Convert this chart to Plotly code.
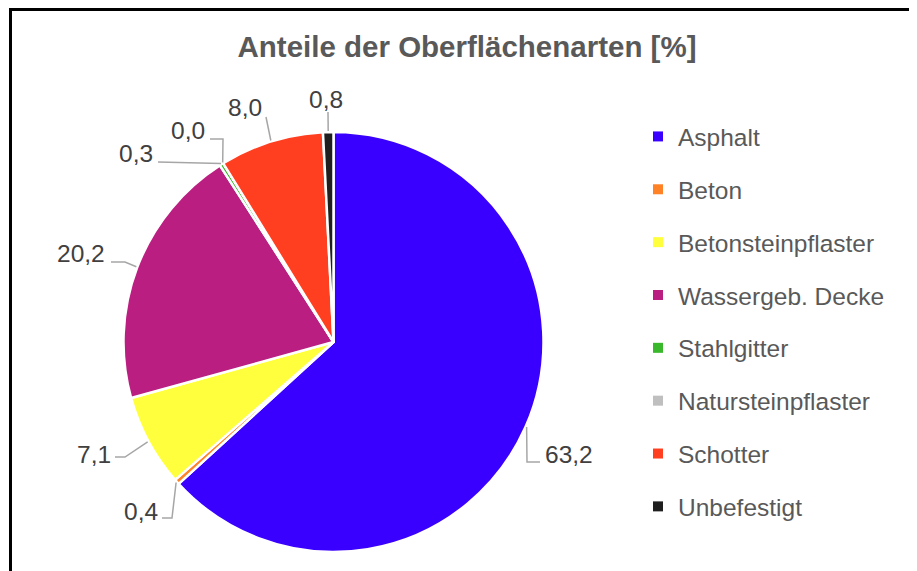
import math
import plotly.graph_objects as go

# data
categories = ["Asphalt", "Beton", "Betonsteinpflaster", "Wassergeb. Decke",
              "Stahlgitter", "Natursteinpflaster", "Schotter", "Unbefestigt"]
shares = [63.2, 0.4, 7.1, 20.2, 0.3, 0.0, 8.0, 0.8]
colors = ["#3A00FF", "#FF8226", "#FFFF3D", "#B91E80",
          "#38B82A", "#BFBFBF", "#FF3F1F", "#1F1F1F"]

W, H = 917, 571
OFF = 8  # page body margin
CX, CY, R = 333.5, 342, 210  # pie centre / radius in screen px

# label placement (px): text x, text y, anchor, knee, stub end
label_layout = [
    (543, 454, "left", (527, 462), (540, 462)),
    (160, 511, "right", (172, 518), (162, 518)),
    (113, 454, "right", (125, 457), (115, 457)),
    (107, 253, "right", (125, 262), (111, 262)),
    (155, 153, "right", (158, 162), None),
    (207, 130, "right", (223, 139), (210, 139)),
    (245, 107, "center", (266, 117), None),
    (325.5, 99, "center", (328, 112), None),
]


def px(x):
    return (x - OFF) / W


def py(y):
    return 1 - (y - OFF) / H


fig = go.Figure()

fig.add_trace(go.Pie(
    labels=categories,
    values=shares,
    sort=False,
    direction="clockwise",
    marker=dict(colors=colors, line=dict(color="white", width=2.5)),
    textinfo="none",
    hoverinfo="label+value",
    showlegend=False,
    domain=dict(x=[px(CX - R), px(CX + R)], y=[py(CY + R), py(CY - R)]),
))

# legend entries (one group each so the spacing can be set)
for name, col in zip(categories, colors):
    fig.add_trace(go.Scatter(
        x=[None], y=[None], mode="markers", name=name, legendgroup=name,
        marker=dict(symbol="square", size=10, color=col),
    ))

# data labels with leader lines, anchored on the slice mid angles
total = sum(shares)
cum = 0
shapes = []
annotations = []
for v, (tx, ty, anc, knee, stub) in zip(shares, label_layout):
    theta = 2 * math.pi * (cum + v / 2) / total
    cum += v
    ax = CX + (R + 1) * math.sin(theta)
    ay = CY - (R + 1) * math.cos(theta)
    pts = [(ax, ay), knee] + ([stub] if stub else [])
    path = "M " + " L ".join(f"{px(x):.5f},{py(y):.5f}" for x, y in pts)
    shapes.append(dict(type="path", path=path, xref="paper", yref="paper",
                       line=dict(color="#A6A6A6", width=1.5)))
    annotations.append(dict(
        x=px(tx), y=py(ty), xref="paper", yref="paper", xanchor=anc,
        yanchor="middle", showarrow=False,
        text=f"{v:.1f}".replace(".", ","),
        font=dict(family="Liberation Sans, Arial", size=24.5, color="#404040"),
    ))

# chart frame (left and top edges visible)
shapes.append(dict(type="line", xref="paper", yref="paper",
                   x0=px(10.5), x1=px(10.5), y0=py(9.5), y1=-0.05,
                   line=dict(color="black", width=3)))
shapes.append(dict(type="line", xref="paper", yref="paper",
                   x0=px(9), x1=1.05, y0=py(9.5), y1=py(9.5),
                   line=dict(color="black", width=3)))

fig.update_layout(
    width=W,
    height=H,
    margin=dict(l=0, r=0, t=0, b=0, pad=0),
    paper_bgcolor="white",
    plot_bgcolor="white",
    title=dict(
        text="<b>Anteile der Oberflächenarten [%]</b>",
        x=px(467), xanchor="center", y=py(47), yanchor="middle",
        font=dict(family="Liberation Sans, Arial", size=29.5, color="#595959"),
    ),
    xaxis=dict(visible=False),
    yaxis=dict(visible=False),
    legend=dict(
        x=px(638), xanchor="left", y=py(114), yanchor="top",
        font=dict(family="Liberation Sans, Arial", size=24.5, color="#595959"),
        tracegroupgap=18,
        bgcolor="rgba(0,0,0,0)",
    ),
    shapes=shapes,
    annotations=annotations,
)

fig.write_html("out.html")
